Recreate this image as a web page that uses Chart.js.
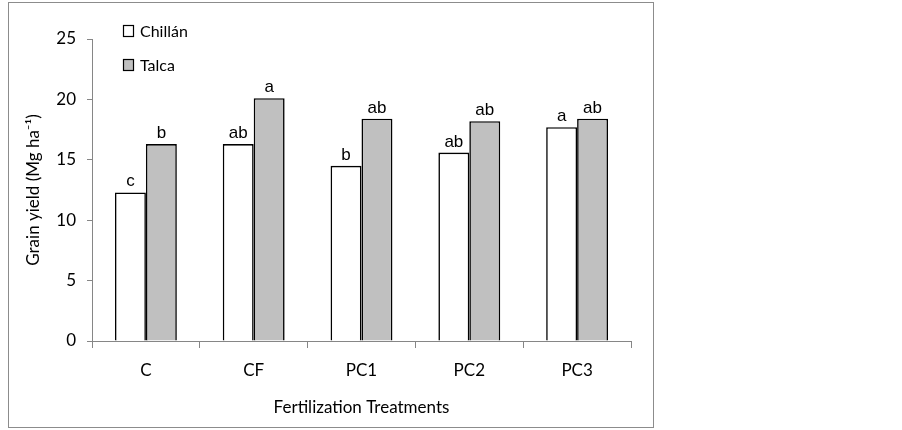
<!DOCTYPE html>
<html>
<head>
<meta charset="utf-8">
<script src="https://cdn.jsdelivr.net/npm/chart.js@4.4.1/dist/chart.umd.min.js"></script>
<style>
  html, body { margin: 0; padding: 0; background: #fff; }
  #wrap { width: 902px; height: 430px; position: relative; }
</style>
</head>
<body>
<div id="wrap"><canvas id="yield-chart"></canvas></div>
<script>
// Treatments on the x axis
let treatments = ["C", "CF", "PC1", "PC2", "PC3"];

// Grain yield for each site (Mg/ha)
let chillanYield = [12.3, 16.3, 14.5, 15.6, 17.7];
let talcaYield = [16.3, 20.1, 18.4, 18.2, 18.4];

// Significance letters above each bar
let chillanLetters = ["c", "ab", "b", "ab", "a"];
let talcaLetters = ["b", "a", "ab", "ab", "ab"];

let yTicks = [0, 5, 10, 15, 20, 25];

const tickFont = { family: "Lato", size: 17 };
const axisGray = "#868686";

// Grey frame round the whole chart
const framePlugin = {
    id: "frame",
    afterDraw(chart) {
        const ctx = chart.ctx;
        ctx.save();
        ctx.strokeStyle = "#8c8c8c";
        ctx.lineWidth = 1;
        ctx.strokeRect(8.5, 2.5, 645, 425);
        ctx.restore();
    }
};

// Letters over the bars
const letterPlugin = {
    id: "letters",
    afterDatasetsDraw(chart) {
        const ctx = chart.ctx;
        const letterSets = [chillanLetters, talcaLetters];
        ctx.save();
        ctx.font = "17px 'Liberation Sans', Arial";
        ctx.fillStyle = "#000";
        ctx.textAlign = "center";
        ctx.textBaseline = "alphabetic";
        chart.data.datasets.forEach((ds, i) => {
            const meta = chart.getDatasetMeta(i);
            meta.data.forEach((bar, j) => {
                ctx.fillText(letterSets[i][j], bar.x, bar.y - 6);
            });
        });
        ctx.restore();
    }
};

// Legend stacked inside the plot, top-left
const legendPlugin = {
    id: "insideLegend",
    afterDraw(chart) {
        const ctx = chart.ctx;
        const rows = [31, 65];
        ctx.save();
        ctx.font = "16px Lato";
        ctx.textBaseline = "middle";
        chart.data.datasets.forEach((ds, i) => {
            const y = rows[i];
            ctx.fillStyle = ds.backgroundColor;
            ctx.fillRect(123.5, y - 5.5, 10, 11);
            ctx.strokeStyle = "#000";
            ctx.lineWidth = 1.2;
            ctx.strokeRect(123.5, y - 5.5, 10, 11);
            ctx.fillStyle = "#000";
            ctx.fillText(ds.label, 140, y + 1);
        });
        ctx.restore();
    }
};

new Chart("yield-chart", {
    type: "bar",
    data: {
        labels: treatments,
        datasets: [{
            label: "Chillán",
            data: chillanYield,
            backgroundColor: "#ffffff",
            borderColor: "#000000",
            borderWidth: 1.6,
            borderSkipped: "bottom"
        }, {
            label: "Talca",
            data: talcaYield,
            backgroundColor: "#c0c0c0",
            borderColor: "#000000",
            borderWidth: 1.6,
            borderSkipped: "bottom"
        }]
    },
    options: {
        responsive: true,
        maintainAspectRatio: false,
        animation: false,
        layout: { padding: { left: 0, right: 271, top: 39, bottom: 0 } },
        datasets: { bar: { categoryPercentage: 0.574, barPercentage: 1 } },
        plugins: {
            legend: { display: false },
            tooltip: { enabled: false }
        },
        scales: {
            x: {
                grid: { display: true, drawOnChartArea: false, offset: true, tickLength: 7, color: axisGray },
                border: { color: axisGray },
                ticks: { color: "#000", font: tickFont, padding: 12 },
                title: {
                    display: true,
                    text: "Fertilization Treatments",
                    color: "#000",
                    font: tickFont,
                    padding: { top: 0, bottom: 12 }
                },
                afterFit(scale) { scale.height = 89; }
            },
            y: {
                min: 0,
                max: 25,
                grid: { display: true, drawOnChartArea: false, tickLength: 5, color: axisGray },
                border: { color: axisGray },
                afterBuildTicks(scale) { scale.ticks = yTicks.map(v => ({ value: v })); },
                ticks: { color: "#000", font: tickFont, padding: 11 },
                title: {
                    display: true,
                    text: "Grain yield (Mg ha⁻¹)",
                    color: "#000",
                    font: { family: "Lato", size: 17 },
                    padding: { top: 23, bottom: 0 }
                },
                afterFit(scale) { scale.width = 92; }
            }
        }
    },
    plugins: [framePlugin, letterPlugin, legendPlugin]
});
</script>
</body>
</html>
